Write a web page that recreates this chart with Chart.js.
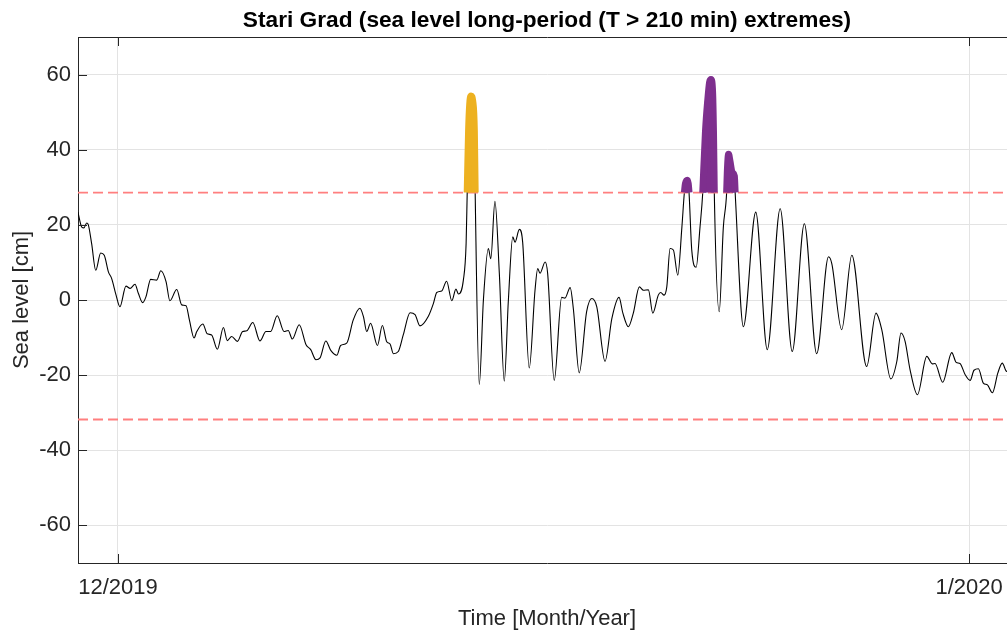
<!DOCTYPE html>
<html>
<head>
<meta charset="utf-8">
<title>Stari Grad sea level</title>
<script src="https://cdn.jsdelivr.net/npm/chart.js@4/dist/chart.umd.min.js"></script>
<style>
  html, body { margin: 0; padding: 0; background: #fff; overflow: hidden; }
  #wrap { width: 1016px; height: 633px; }
</style>
</head>
<body>
<div id="wrap"><canvas id="chart" width="1016" height="633"></canvas></div>
<script>
// time in days since 1 Dec 2019, sea level in cm
const days = [
  -1.46, -1.32, -1.24, -1.14, -1.08, -0.96, -0.81, -0.63, -0.50, -0.35,
  -0.23, -0.07, 0.07, 0.29, 0.44, 0.62, 0.74, 0.90, 1.02, 1.19,
  1.41, 1.56, 1.75, 1.89, 2.14, 2.32, 2.48, 2.60, 2.77, 2.87,
  3.09, 3.25, 3.41, 3.62, 3.84, 3.98, 4.14, 4.35, 4.54, 4.69,
  4.91, 5.17, 5.39, 5.56, 5.80, 6.05, 6.20, 6.35, 6.60, 6.85,
  7.02, 7.21, 7.36, 7.57, 7.75, 7.97, 8.11, 8.33, 8.57, 8.81,
  8.94, 9.06, 9.20, 9.45, 9.63, 9.79, 9.91, 10.03, 10.21, 10.39,
  10.64, 10.82, 11.00, 11.30, 11.49, 11.61, 11.79, 11.97, 12.16, 12.31,
  12.40, 12.58, 12.68, 12.72, 12.77, 12.81, 12.86, 12.92, 12.98, 13.01,
  13.16, 13.31, 13.49, 13.58, 13.73, 13.89, 14.07, 14.22, 14.38, 14.46,
  14.62, 14.74, 14.98, 15.19, 15.29, 15.37, 15.56, 15.65, 15.89, 16.16,
  16.28, 16.47, 16.59, 16.80, 17.07, 17.26, 17.44, 17.74, 17.99, 18.25,
  18.39, 18.59, 18.77, 18.99, 19.14, 19.32, 19.48, 19.68, 19.77, 19.89,
  19.99, 20.11, 20.23, 20.39, 20.54, 20.63, 20.67, 20.74, 20.77, 20.80, 20.90, 21.06,
  21.20, 21.30, 21.40, 21.48, 21.55, 21.60, 21.66, 21.69, 21.72, 21.90,
  22.05, 22.17, 22.20, 22.24, 22.29, 22.37, 22.45, 22.48, 22.78, 23.23,
  23.65, 24.12, 24.56, 25.00, 25.45, 25.88, 26.00, 26.36, 26.73, 27.27,
  27.61, 27.82, 28.15, 28.37, 28.52, 28.67, 28.85, 29.12, 29.46, 29.66,
  29.76, 30.04, 30.37, 30.53, 30.67, 30.86, 31.04, 31.18, 31.34, 31.52,
  31.67, 31.85, 32.05, 32.21, 32.37, 32.71
];
const level = [
  23.4, 19.4, 19.2, 20.5, 20.0, 15.0, 7.9, 12.5, 11.9, 7.5,
  5.7, 1.3, -1.8, 3.7, 3.1, 4.2, 1.8, -0.7, 0.9, 5.5,
  5.3, 7.8, 4.9, -0.2, 2.8, -1.3, -1.5, -5.3, -10.1, -8.4,
  -6.4, -9.0, -9.3, -13.1, -7.3, -10.8, -9.7, -11.0, -8.4, -8.2,
  -6.0, -10.9, -8.4, -8.4, -4.2, -8.4, -8.1, -10.4, -6.6, -11.9,
  -13.2, -15.9, -15.4, -10.9, -13.4, -14.7, -12.1, -11.5, -5.3, -2.2,
  -4.4, -8.4, -6.2, -12.1, -6.8, -11.1, -11.7, -14.3, -13.7, -9.3,
  -3.4, -3.9, -6.9, -4.4, -0.9, 2.0, 2.4, 5.0, -0.2, 2.9,
  1.6, 5.3, 15.0, 28.6, 45.0, 52.0, 54.3, 53.0, 45.0, 28.6,
  -22.5, 0.0, 13.7, 11.0, 26.3, 7.1, -21.6, 0.0, 16.8, 15.4,
  18.8, 15.4, -18.1, 2.6, 8.4, 7.1, 10.1, 7.1, -21.4, 0.7,
  0.5, 3.3, -2.6, -19.4, -3.1, 0.4, -1.8, -16.3, -4.9, 0.7,
  -3.5, -7.1, -3.5, 3.5, 2.6, 2.7, -3.5, 1.3, 2.0, 1.3,
  3.5, 13.7, 13.3, 6.6, 19.4, 28.6, 31.0, 31.9, 31.0, 28.6, 13.2, 8.7,
  19.4, 28.6, 45.0, 53.0, 58.0, 58.7, 55.0, 45.0, 28.6, -3.1,
  19.4, 28.6, 35.0, 38.8, 37.0, 34.0, 33.0, 28.6, -7.1, 23.4,
  -13.2, 24.3, -13.7, 20.3, -14.3, 11.5, 9.7, -7.9, 11.9, -17.7,
  -3.5, -7.9, -21.0, -16.3, -8.8, -11.0, -18.5, -25.2, -15.0, -17.0,
  -16.9, -21.9, -14.0, -16.6, -16.9, -19.9, -21.4, -18.7, -18.3, -22.1,
  -22.6, -24.7, -19.4, -16.8, -19.0, -18.0
];
const upperLimit = 28.6;
const lowerLimit = -31.8;
const xMin = -1.457, xMax = 32.71;
const xTickDays = [0, 31];
const xTickLabels = ['12/2019', '1/2020'];
const yTicks = [-60, -40, -20, 0, 20, 40, 60];

const FONT = "'Liberation Sans', Arial, Helvetica, sans-serif";
const INK = '#262626';
const LIMIT_COLOR = '#ff7f7f';

const series = days.map((d, i) => ({ x: d, y: level[i] }));

// split the part above the upper limit into episodes
function episodes(){
  const out = [];
  let cur = null;
  series.forEach(p => {
    if (p.y >= upperLimit - 1e-9) {
      if (!cur) { cur = []; out.push(cur); }
      cur.push(p);
    } else cur = null;
  });
  return out;
}
const eps = episodes();
const firstEp = eps[0];
const laterEps = [];
eps.slice(1).forEach((e, i) => {
  if (i > 0) laterEps.push({ x: (laterEps[laterEps.length - 1].x + e[0].x) / 2, y: null });
  e.forEach(p => laterEps.push(p));
});

// MATLAB style ticks pointing into the axes
const innerTicks = {
  id: 'innerTicks',
  afterDraw(chart){
    const { ctx, chartArea: a, scales: { x, y } } = chart;
    ctx.save();
    ctx.strokeStyle = INK;
    ctx.lineWidth = 1;
    ctx.beginPath();
    y.ticks.forEach(t => {
      const py = Math.round(y.getPixelForValue(t.value)) + 0.5;
      ctx.moveTo(a.left, py); ctx.lineTo(a.left + 9, py);
    });
    x.ticks.forEach(t => {
      const px = Math.round(x.getPixelForValue(t.value)) + 0.5;
      ctx.moveTo(px, a.bottom); ctx.lineTo(px, a.bottom - 9);
      ctx.moveTo(px, a.top); ctx.lineTo(px, a.top + 9);
    });
    ctx.stroke();
    ctx.restore();
  }
};

const extremeStyle = {
  borderWidth: 7, pointRadius: 0, fill: { value: upperLimit }, spanGaps: false,
  borderCapStyle: 'butt', cubicInterpolationMode: 'monotone', order: 1
};

new Chart(document.getElementById('chart'), {
  type: 'line',
  data: {
    datasets: [
      Object.assign({ data: firstEp, borderColor: '#EDB120', backgroundColor: '#EDB120' }, extremeStyle),
      Object.assign({ data: laterEps, borderColor: '#7E2F8E', backgroundColor: '#7E2F8E' }, extremeStyle),
      {
        data: [{ x: xMin, y: upperLimit }, { x: xMax, y: upperLimit }],
        borderColor: LIMIT_COLOR, borderWidth: 1.8, borderDash: [10, 5],
        pointRadius: 0, fill: false, order: 2
      },
      {
        data: [{ x: xMin, y: lowerLimit }, { x: xMax, y: lowerLimit }],
        borderColor: LIMIT_COLOR, borderWidth: 1.8, borderDash: [10, 5],
        pointRadius: 0, fill: false, order: 2
      },
      {
        data: series, borderColor: '#000', borderWidth: 1.1,
        pointRadius: 0, fill: false, cubicInterpolationMode: 'monotone', order: 3
      }
    ]
  },
  options: {
    responsive: false,
    animation: false,
    layout: { padding: 0 },
    plugins: { legend: { display: false }, tooltip: { enabled: false } },
    scales: {
      x: {
        type: 'linear', position: 'bottom', min: xMin, max: xMax,
        afterBuildTicks: s => { s.ticks = xTickDays.map(v => ({ value: v })); },
        afterFit: s => { s.height = 70; },
        ticks: {
          callback: v => xTickLabels[xTickDays.indexOf(v)],
          font: { family: FONT, size: 22 }, color: INK, padding: 12, maxRotation: 0
        },
        grid: { color: '#e3e3e3', drawTicks: false },
        border: { color: INK, width: 1 },
        title: {
          display: true, text: 'Time [Month/Year]',
          font: { family: FONT, size: 22 }, color: INK, padding: { top: 0, bottom: 1 }
        }
      },
      x2: {
        type: 'linear', position: 'top', min: xMin, max: xMax,
        afterFit: s => { s.height = 37; },
        ticks: { display: false },
        grid: { display: false, drawTicks: false },
        border: { color: INK, width: 1 },
        title: {
          display: true, text: 'Stari Grad (sea level long-period (T > 210 min) extremes)',
          font: { family: FONT, size: 22.7, weight: 'bold' }, color: '#000', padding: { top: 7, bottom: 0 }
        }
      },
      y: {
        min: -70, max: 70,
        afterBuildTicks: s => { s.ticks = yTicks.map(v => ({ value: v })); },
        afterFit: s => { s.width = 78; },
        ticks: { font: { family: FONT, size: 22 }, color: INK, padding: 7 },
        grid: { color: '#e3e3e3', drawTicks: false },
        border: { color: INK, width: 1 },
        title: {
          display: true, text: 'Sea level [cm]',
          font: { family: FONT, size: 22 }, color: INK, padding: { top: 9, bottom: 0 }
        }
      }
    }
  },
  plugins: [innerTicks]
});
</script>
</body>
</html>
